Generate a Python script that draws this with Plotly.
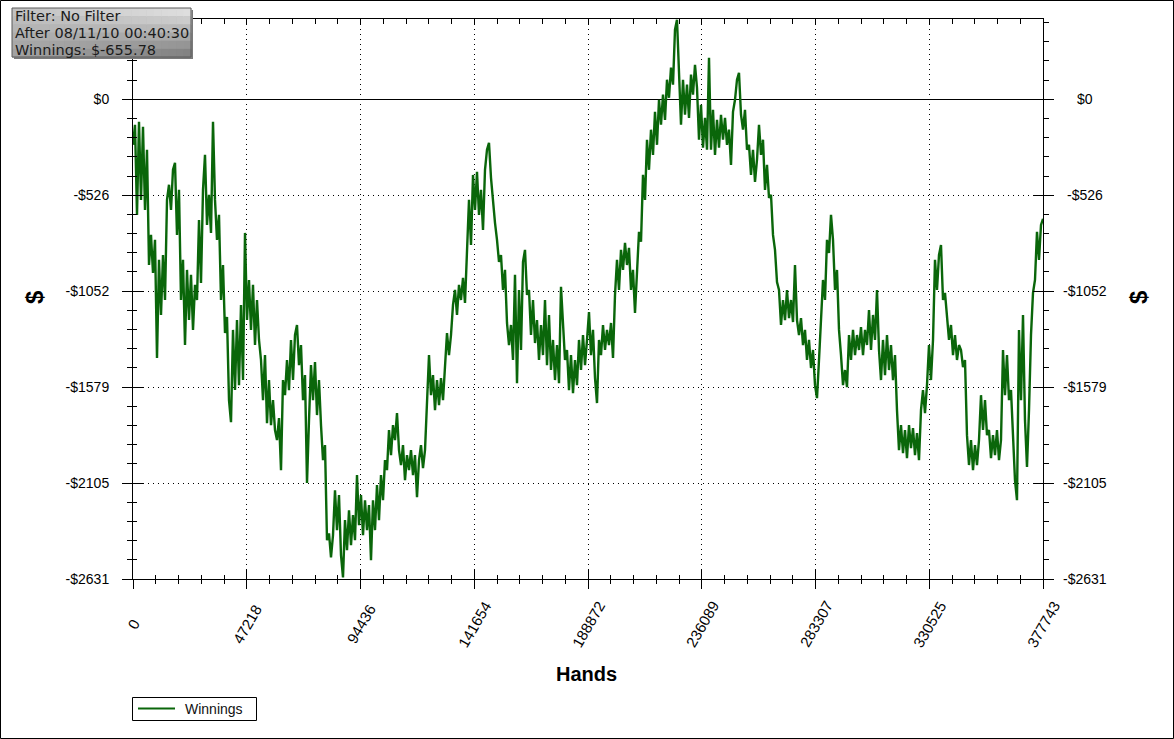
import plotly.graph_objects as go

# hands played at each sample and running winnings ($)
hands = [
    0, 830, 1660, 2491, 3321, 4151, 4981, 5811, 6642, 7472,
    8302, 9132, 9962, 10793, 11623, 12453, 13283, 14113, 14944, 15774,
    16604, 17434, 18264, 19095, 19925, 20755, 21585, 22415, 23246, 24076,
    24906, 25736, 26566, 27397, 28227, 29057, 29887, 30717, 31548, 32378,
    33208, 34038, 34868, 35699, 36529, 37359, 38189, 39019, 39850, 40680,
    41510, 42340, 43170, 44001, 44831, 45661, 46491, 47321, 48152, 48982,
    49812, 50642, 51472, 52303, 53133, 53963, 54793, 55623, 56454, 57284,
    58114, 58944, 59774, 60605, 61435, 62265, 63095, 63925, 64756, 65586,
    66416, 67246, 68076, 68907, 69737, 70567, 71397, 72227, 73058, 73888,
    74718, 75548, 76378, 77209, 78039, 78869, 79699, 80529, 81360, 82190,
    83020, 83850, 84680, 85511, 86341, 87171, 88001, 88831, 89662, 90492,
    91322, 92152, 92982, 93813, 94643, 95473, 96303, 97133, 97964, 98794,
    99624, 100454, 101284, 102115, 102945, 103775, 104605, 105435, 106266, 107096,
    107926, 108756, 109586, 110417, 111247, 112077, 112907, 113737, 114568, 115398,
    116228, 117058, 117888, 118719, 119549, 120379, 121209, 122039, 122870, 123700,
    124530, 125360, 126190, 127021, 127851, 128681, 129511, 130341, 131172, 132002,
    132832, 133662, 134492, 135323, 136153, 136983, 137813, 138643, 139474, 140304,
    141134, 141964, 142794, 143625, 144455, 145285, 146115, 146945, 147776, 148606,
    149436, 150266, 151096, 151927, 152757, 153587, 154417, 155247, 156078, 156908,
    157738, 158568, 159398, 160229, 161059, 161889, 162719, 163549, 164380, 165210,
    166040, 166870, 167700, 168531, 169361, 170191, 171021, 171851, 172682, 173512,
    174342, 175172, 176002, 176833, 177663, 178493, 179323, 180153, 180984, 181814,
    182644, 183474, 184304, 185135, 185965, 186795, 187625, 188455, 189286, 190116,
    190946, 191776, 192606, 193437, 194267, 195097, 195927, 196757, 197588, 198418,
    199248, 200078, 200908, 201739, 202569, 203399, 204229, 205059, 205890, 206720,
    207550, 208380, 209210, 210041, 210871, 211701, 212531, 213361, 214192, 215022,
    215852, 216682, 217512, 218343, 219173, 220003, 220833, 221663, 222494, 223324,
    224154, 224984, 225814, 226645, 227475, 228305, 229135, 229965, 230796, 231626,
    232456, 233286, 234116, 234947, 235777, 236607, 237437, 238267, 239098, 239928,
    240758, 241588, 242418, 243249, 244079, 244909, 245739, 246569, 247400, 248230,
    249060, 249890, 250720, 251551, 252381, 253211, 254041, 254871, 255702, 256532,
    257362, 258192, 259022, 259853, 260683, 261513, 262343, 263173, 264004, 264834,
    265664, 266494, 267324, 268155, 268985, 269815, 270645, 271475, 272306, 273136,
    273966, 274796, 275626, 276457, 277287, 278117, 278947, 279777, 280608, 281438,
    282268, 283098, 283928, 284759, 285589, 286419, 287249, 288079, 288910, 289740,
    290570, 291400, 292230, 293061, 293891, 294721, 295551, 296381, 297212, 298042,
    298872, 299702, 300532, 301363, 302193, 303023, 303853, 304683, 305514, 306344,
    307174, 308004, 308834, 309665, 310495, 311325, 312155, 312985, 313816, 314646,
    315476, 316306, 317136, 317967, 318797, 319627, 320457, 321287, 322118, 322948,
    323778, 324608, 325438, 326269, 327099, 327929, 328759, 329589, 330420, 331250,
    332080, 332910, 333740, 334571, 335401, 336231, 337061, 337891, 338722, 339552,
    340382, 341212, 342042, 342873, 343703, 344533, 345363, 346193, 347024, 347854,
    348684, 349514, 350344, 351175, 352005, 352835, 353665, 354495, 355326, 356156,
    356986, 357816, 358646, 359477, 360307, 361137, 361967, 362797, 363628, 364458,
    365288, 366118, 366948, 367779, 368609, 369439, 370269, 371099, 371930, 372760,
    373590, 374420, 375250, 376081, 376911, 377743,
]

winnings = [
    -250, -140, -634, -123, -552, -151, -607, -277, -909, -744,
    -952, -771, -1419, -881, -1183, -854, -1101, -552, -469, -607,
    -387, -349, -744, -497, -1101, -881, -1348, -936, -1211, -963,
    -1265, -1018, -1101, -662, -1008, -497, -305, -689, -524, -733,
    -123, -552, -771, -634, -1101, -909, -1282, -1194, -1650, -1771,
    -1265, -1595, -1211, -1568, -1128, -1540, -733, -1211, -991, -1265,
    -1018, -1348, -1101, -1320, -1430, -1650, -1403, -1776, -1540, -1787,
    -1650, -1814, -1869, -1749, -2034, -1540, -1623, -1430, -1595, -1320,
    -1540, -1293, -1238, -1458, -1348, -1650, -1513, -2105, -1760, -1458,
    -1650, -1441, -1732, -1540, -1787, -1979, -1897, -2418, -2380, -2512,
    -2391, -2144, -2363, -2171, -2501, -2622, -2308, -2473, -2254, -2446,
    -2281, -2418, -2061, -2336, -2171, -2391, -2199, -2363, -2226, -2528,
    -2199, -2363, -2116, -2308, -2061, -2199, -1979, -2034, -1814, -1952,
    -1787, -1869, -1721, -1924, -2006, -1897, -2089, -1952, -2034, -1924,
    -2061, -1952, -2182, -1979, -1897, -2023, -1924, -1650, -1403, -1623,
    -1513, -1705, -1540, -1677, -1529, -1650, -1458, -1282, -1403, -1293,
    -1128, -1046, -1183, -1018, -1101, -980, -1117, -854, -552, -799,
    -415, -607, -398, -634, -497, -717, -387, -277, -239, -431,
    -579, -678, -771, -892, -854, -1046, -936, -1227, -1348, -1238,
    -1430, -963, -1557, -1046, -1375, -892, -826, -1073, -1046, -1293,
    -1101, -1337, -1211, -1430, -1238, -1403, -1101, -1458, -1183, -1485,
    -1320, -1540, -1348, -1557, -1029, -1265, -1430, -1375, -1595, -1403,
    -1612, -1430, -1568, -1320, -1485, -1293, -1458, -1320, -1167, -1403,
    -1265, -1529, -1666, -1320, -1403, -1238, -1375, -1265, -1348, -1227,
    -1419, -1073, -881, -1046, -826, -936, -788, -909, -815, -1046,
    -936, -1172, -909, -727, -782, -415, -552, -222, -387, -167,
    -305, -69, -250, -3, -140, 25, -113, 107, 8, 173,
    80, 382, 436, 135, -140, 107, -85, 80, -102, 135,
    25, 189, 63, -222, -30, -266, -102, -277, 228, -277,
    -58, -305, -113, -266, -85, -222, -102, -250, -167, -360,
    -69, -3, 107, 145, -85, -167, -58, -277, -250, -415,
    -277, -453, -332, -140, -305, -222, -497, -360, -541, -524,
    -744, -826, -1002, -1046, -1238, -1101, -1211, -1046, -1200, -1101,
    -1222, -909, -1211, -1293, -1200, -1348, -1265, -1430, -1320, -1474,
    -1375, -1568, -1639, -1430, -1211, -991, -1101, -771, -843, -634,
    -771, -1046, -936, -1265, -1403, -1568, -1485, -1579, -1293, -1430,
    -1265, -1403, -1293, -1375, -1249, -1403, -1265, -1348, -1156, -1375,
    -1183, -1320, -1046, -1375, -1540, -1320, -1513, -1293, -1485, -1348,
    -1540, -1403, -1705, -1924, -1787, -1941, -1814, -1968, -1787, -1913,
    -1804, -1952, -1831, -1979, -1705, -1595, -1721, -1568, -1348, -1540,
    -1320, -881, -1046, -854, -799, -1101, -1062, -1211, -1320, -1238,
    -1403, -1293, -1430, -1348, -1375, -1469, -1430, -1842, -2006, -1869,
    -2034, -1897, -2006, -1869, -1623, -1814, -1650, -1842, -1814, -1968,
    -1842, -1952, -1814, -1979, -1869, -1375, -1623, -1403, -1650, -1595,
    -1869, -2089, -2199, -1265, -1650, -1183, -1760, -2017, -1705, -1293,
    -1062, -991, -727, -881, -689, -655.78,
]

x_tickvals = [0, 47218, 94436, 141654, 188872, 236089, 283307, 330525, 377743]
x_ticktext = ["0", "47218", "94436", "141654", "188872", "236089", "283307", "330525", "377743"]
y_tickvals = [0, -526.2, -1052.4, -1578.6, -2104.8, -2631]
y_ticktext = ["$0", "-$526", "-$1052", "-$1579", "-$2105", "-$2631"]

info_lines = ["Filter: No Filter", "After 08/11/10 00:40:30", "Winnings: $-655.78"]
series_name = "Winnings"

W, H = 1174, 739
L, R, T, B = 133, 131, 19, 160
PW, PH = W - L - R, H - T - B
X_RANGE = [0, 377743]
Y_RANGE = [-2631, 440]
X_MINOR = 377743 / 40
Y_MINOR = 526.2 / 5


def px_x(px):
    return (px - L) / PW


def px_y(py):
    return (H - B - py) / PH


FONT = "Liberation Sans, Arial, sans-serif"
GREEN = "#0a660a"

fig = go.Figure()
fig.add_trace(go.Scatter(
    x=hands, y=winnings, mode="lines", name=series_name,
    line=dict(color=GREEN, width=2.4), showlegend=False,
))

grid = dict(griddash="1px,4px", gridcolor="black", gridwidth=1)
common_x = dict(range=X_RANGE, tickmode="array", tickvals=x_tickvals,
                showline=True, linecolor="black", linewidth=1,
                tickcolor="black", fixedrange=True, zeroline=False)
common_y = dict(range=Y_RANGE, tickmode="array", tickvals=y_tickvals,
                showline=True, linecolor="black", linewidth=1,
                tickcolor="black", fixedrange=True)

fig.update_layout(
    width=W, height=H,
    margin=dict(l=L, r=R, t=T, b=B, autoexpand=False),
    paper_bgcolor="white", plot_bgcolor="white",
    font=dict(family=FONT, size=14, color="black"),
    showlegend=False,
    xaxis=dict(**common_x, showticklabels=False,
               ticks="outside", ticklen=9, showgrid=True, **grid,
               minor=dict(tick0=0, dtick=X_MINOR, ticks="outside", ticklen=4,
                          tickcolor="black", showgrid=False)),
    xaxis2=dict(**common_x, overlaying="x", side="bottom", anchor="y",
                showticklabels=False, ticks="inside", ticklen=9, showgrid=False,
                minor=dict(tick0=0, dtick=X_MINOR, ticks="inside", ticklen=4,
                           tickcolor="black", showgrid=False)),
    xaxis3=dict(**common_x, overlaying="x", side="top", anchor="y",
                showticklabels=False, ticks="inside", ticklen=6, showgrid=False,
                minor=dict(tick0=0, dtick=X_MINOR, ticks="inside", ticklen=5,
                           tickcolor="black", showgrid=False)),
    yaxis=dict(**common_y, ticktext=y_ticktext, ticks="outside", ticklen=10,
               ticklabelstandoff=10, showgrid=True, **grid,
               zeroline=True, zerolinecolor="black", zerolinewidth=1,
               tickfont=dict(family=FONT, size=14),
               minor=dict(tick0=0, dtick=Y_MINOR, ticks="outside", ticklen=5,
                          tickcolor="black", showgrid=False)),
    yaxis2=dict(**common_y, overlaying="y", side="left", anchor="x",
                showticklabels=False, ticks="inside", ticklen=10, showgrid=False,
                zeroline=False,
                minor=dict(tick0=0, dtick=Y_MINOR, ticks="inside", ticklen=4,
                           tickcolor="black", showgrid=False)),
    yaxis3=dict(**common_y, overlaying="y", side="right", anchor="x",
                showticklabels=False, ticks="outside", ticklen=10, showgrid=False,
                zeroline=False,
                minor=dict(tick0=0, dtick=Y_MINOR, ticks="outside", ticklen=5,
                           tickcolor="black", showgrid=False)),
    yaxis4=dict(**common_y, overlaying="y", side="right", anchor="x",
                showticklabels=False, ticks="inside", ticklen=10, showgrid=False,
                zeroline=False),
)

# extra axes need a trace each to get drawn
for xa, ya in [("x2", "y"), ("x3", "y"), ("x", "y2"), ("x", "y3"), ("x", "y4")]:
    fig.add_trace(go.Scatter(x=hands[:1], y=winnings[:1], xaxis=xa, yaxis=ya,
                             mode="lines", line=dict(width=0), showlegend=False,
                             hoverinfo="skip"))

shapes = []
# outer frame of the picture
shapes.append(dict(type="rect", xref="paper", yref="paper",
                   x0=px_x(0.5), x1=px_x(W - 0.5), y0=px_y(H - 0.5), y1=px_y(0.5),
                   line=dict(color="black", width=1), layer="below"))

# info box: shadow, gradient fill, border
bx0, bx1, by0, by1 = 12, 191, 8, 57
shapes.append(dict(type="rect", xref="paper", yref="paper",
                   x0=px_x(bx0 + 2), x1=px_x(bx1 + 2), y0=px_y(by1 + 2), y1=px_y(by0 + 2),
                   fillcolor="#7a7a7a", line=dict(width=0)))
ncol, nrow = 24, 6
tl, tr, bl, br = 196, 232, 160, 122
for i in range(ncol):
    for j in range(nrow):
        u = (i + 0.5) / ncol
        v = (j + 0.5) / nrow
        g = int(tl * (1 - u) * (1 - v) + tr * u * (1 - v) + bl * (1 - u) * v + br * u * v)
        shapes.append(dict(type="rect", xref="paper", yref="paper",
                           x0=px_x(bx0 + (bx1 - bx0) * i / ncol),
                           x1=px_x(bx0 + (bx1 - bx0) * (i + 1) / ncol + 0.6),
                           y0=px_y(by0 + (by1 - by0) * (j + 1) / nrow + 0.6),
                           y1=px_y(by0 + (by1 - by0) * j / nrow),
                           fillcolor=f"rgb({g},{g},{g})", line=dict(width=0)))
shapes.append(dict(type="rect", xref="paper", yref="paper",
                   x0=px_x(bx0), x1=px_x(bx1), y0=px_y(by1), y1=px_y(by0),
                   line=dict(color="#5a5a5a", width=1)))

# legend box drawn by hand to match the original's compact frame
shapes.append(dict(type="rect", xref="paper", yref="paper",
                   x0=px_x(132.5), x1=px_x(256.5), y0=px_y(720.5), y1=px_y(697.5),
                   fillcolor="white", line=dict(color="black", width=1)))
shapes.append(dict(type="line", xref="paper", yref="paper",
                   x0=px_x(138), x1=px_x(175), y0=px_y(708.5), y1=px_y(708.5),
                   line=dict(color=GREEN, width=2)))
fig.update_layout(shapes=shapes)

ann = []
for k, line in enumerate(info_lines):
    ann.append(dict(text=line, xref="paper", yref="paper", x=px_x(13), y=px_y(16.5 + 16.8 * k),
                    xanchor="left", yanchor="middle", showarrow=False,
                    font=dict(family="DejaVu Sans", size=14.5, color="#1c1c1c")))
# x tick labels: rotated and centred below each tick, as in the original
for val, txt in zip(x_tickvals, x_ticktext):
    ann.append(dict(text=txt, xref="x", yref="paper", x=val, y=px_y(624),
                    xanchor="center", yanchor="middle", textangle=-60, showarrow=False,
                    font=dict(family=FONT, size=15, color="black")))
# right-hand y labels, centred like the original
for val, txt in zip(y_tickvals, y_ticktext):
    ann.append(dict(text=txt, xref="paper", yref="y", x=px_x(1085), y=val,
                    xanchor="center", yanchor="middle", showarrow=False,
                    font=dict(family=FONT, size=14, color="black")))
ann.append(dict(text="<b>$</b>", xref="paper", yref="paper", x=px_x(34), y=px_y(297),
                xanchor="center", yanchor="middle", textangle=-90, showarrow=False,
                font=dict(family=FONT, size=24, color="black")))
ann.append(dict(text="<b>$</b>", xref="paper", yref="paper", x=px_x(1138), y=px_y(297),
                xanchor="center", yanchor="middle", textangle=-90, showarrow=False,
                font=dict(family=FONT, size=24, color="black")))
ann.append(dict(text="<b>Hands</b>", xref="paper", yref="paper", x=px_x(586), y=px_y(674),
                xanchor="center", yanchor="middle", showarrow=False,
                font=dict(family=FONT, size=20, color="black")))
ann.append(dict(text=series_name, xref="paper", yref="paper", x=px_x(183), y=px_y(708.5),
                xanchor="left", yanchor="middle", showarrow=False,
                font=dict(family=FONT, size=14, color="#111")))
fig.update_layout(annotations=ann)

# drop the browser's default page margin so the figure sits at the window corner
fig.write_html("out.html", config={"displayModeBar": False},
               post_script="document.body.style.margin='0';document.body.style.overflow='hidden';")
